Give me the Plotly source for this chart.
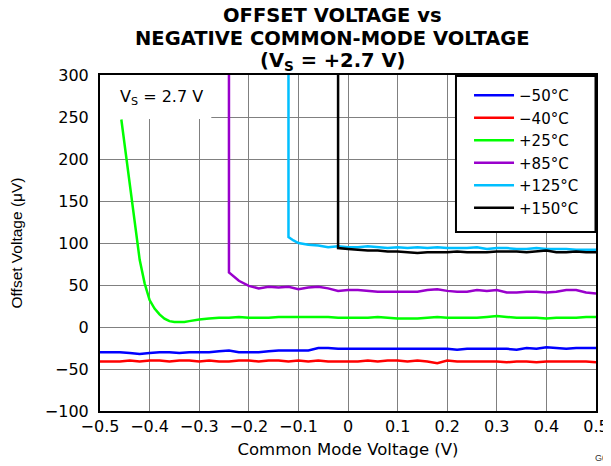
import plotly.graph_objects as go

# ---------------- data ----------------
x_cold = [-0.50, -0.48, -0.46, -0.44, -0.42, -0.40, -0.38, -0.36, -0.34, -0.32,
          -0.30, -0.28, -0.26, -0.24, -0.22, -0.20, -0.18, -0.16, -0.14, -0.12,
          -0.10, -0.08, -0.06, -0.04, -0.02, 0.00, 0.02, 0.04, 0.06, 0.08,
          0.10, 0.12, 0.14, 0.16, 0.18, 0.20, 0.22, 0.24, 0.26, 0.28,
          0.30, 0.32, 0.34, 0.36, 0.38, 0.40, 0.42, 0.44, 0.46, 0.48, 0.50]
y_m50 = [-30, -30, -30, -31, -32, -31, -30, -30, -31, -30,
         -30, -30, -29, -28, -30, -30, -30, -29, -28, -28,
         -28, -28, -25, -25, -26, -26, -26, -26, -26, -26,
         -26, -26, -26, -26, -26, -26, -27, -26, -26, -26,
         -26, -26, -27, -25, -26, -24, -25, -26, -25, -25, -25]
y_m40 = [-41, -41, -41, -40, -41, -40, -40, -41, -40, -40,
         -41, -40, -41, -41, -40, -40, -41, -40, -40, -41,
         -40, -41, -40, -41, -41, -41, -41, -40, -41, -40,
         -40, -41, -40, -41, -43, -40, -41, -41, -41, -41,
         -41, -42, -41, -41, -42, -41, -41, -41, -41, -41, -42]

x_p25 = [-0.457, -0.45, -0.44, -0.43, -0.42, -0.41, -0.40, -0.39, -0.38, -0.37,
         -0.36, -0.35, -0.34, -0.33, -0.32, -0.31, -0.30, -0.28, -0.26, -0.24,
         -0.22, -0.20, -0.18, -0.16, -0.14, -0.12, -0.10, -0.08, -0.06, -0.04,
         -0.02, 0.00, 0.02, 0.04, 0.06, 0.08, 0.10, 0.12, 0.14, 0.16,
         0.18, 0.20, 0.22, 0.24, 0.26, 0.28, 0.30, 0.32, 0.34, 0.36,
         0.38, 0.40, 0.42, 0.44, 0.46, 0.48, 0.50]
y_p25 = [247, 215, 170, 125, 80, 52, 32, 22, 15, 10,
         7, 6, 6, 6, 7, 8, 9, 10, 11, 11,
         12, 11, 11, 11, 12, 12, 12, 12, 12, 12,
         11, 11, 11, 11, 12, 11, 10, 10, 10, 11,
         12, 11, 11, 11, 11, 12, 13, 12, 11, 11,
         11, 10, 11, 11, 11, 12, 12]

x_p85 = [-0.24, -0.24, -0.22, -0.20, -0.18, -0.16, -0.14, -0.12, -0.10, -0.08,
         -0.06, -0.04, -0.02, 0.00, 0.02, 0.04, 0.06, 0.08, 0.10, 0.12,
         0.14, 0.16, 0.18, 0.20, 0.22, 0.24, 0.26, 0.28, 0.30, 0.32,
         0.34, 0.36, 0.38, 0.40, 0.42, 0.44, 0.46, 0.48, 0.50]
y_p85 = [320, 65, 55, 49, 46, 48, 47, 48, 45, 47,
         48, 46, 43, 44, 44, 43, 42, 42, 42, 42,
         42, 44, 45, 43, 42, 42, 44, 43, 44, 41,
         41, 42, 42, 41, 42, 44, 44, 41, 40]

x_p125 = [-0.12, -0.12, -0.11, -0.10, -0.08, -0.06, -0.04, -0.02, 0.00, 0.02,
          0.04, 0.06, 0.08, 0.10, 0.12, 0.14, 0.16, 0.18, 0.20, 0.22,
          0.24, 0.26, 0.28, 0.30, 0.32, 0.34, 0.36, 0.38, 0.40, 0.42,
          0.44, 0.46, 0.48, 0.50]
y_p125 = [320, 107, 103, 100, 98, 97, 95, 96, 95, 95,
          96, 95, 94, 95, 94, 95, 94, 95, 94, 94,
          94, 95, 93, 94, 94, 93, 93, 94, 93, 93,
          93, 92, 92, 92]

x_p150 = [-0.02, -0.02, 0.00, 0.02, 0.04, 0.06, 0.08, 0.10, 0.12, 0.14,
          0.16, 0.18, 0.20, 0.22, 0.24, 0.26, 0.28, 0.30, 0.32, 0.34,
          0.36, 0.38, 0.40, 0.42, 0.44, 0.46, 0.48, 0.50]
y_p150 = [320, 94, 93, 92, 91, 91, 90, 90, 89, 88,
          89, 89, 89, 90, 89, 89, 89, 90, 90, 90,
          89, 90, 91, 89, 89, 90, 89, 89]

series_names = ["\u221250°C", "\u221240°C", "+25°C", "+85°C", "+125°C", "+150°C"]
series_colors = ["#0000ff", "#ff0000", "#00ff00", "#9900cc", "#00bfff", "#000000"]
series_x = [x_cold, x_cold, x_p25, x_p85, x_p125, x_p150]
series_y = [y_m50, y_m40, y_p25, y_p85, y_p125, y_p150]

x_ticks = [-0.5, -0.4, -0.3, -0.2, -0.1, 0, 0.1, 0.2, 0.3, 0.4, 0.5]
x_tick_labels = ["\u22120.5", "\u22120.4", "\u22120.3", "\u22120.2", "\u22120.1", "0",
                 "0.1", "0.2", "0.3", "0.4", "0.5"]
y_ticks = [-100, -50, 0, 50, 100, 150, 200, 250, 300]
y_tick_labels = ["\u2212100", "\u221250", "0", "50", "100", "150", "200", "250", "300"]

title_lines = ["OFFSET VOLTAGE vs", "NEGATIVE COMMON-MODE VOLTAGE", "(V<sub>S</sub> = +2.7 V)"]

# ---------------- figure ----------------
FONT = "DejaVu Sans, Arial, sans-serif"
fig = go.Figure()
for name, color, xs, ys in zip(series_names, series_colors, series_x, series_y):
    fig.add_trace(go.Scatter(x=xs, y=ys, mode="lines", name=name,
                             line=dict(color=color, width=2.5)))

# white box behind the V_S note (covers grid, under traces)
fig.add_shape(type="rect", xref="x", yref="y", x0=-0.5, x1=-0.2756, y0=247.5, y1=300,
              fillcolor="white", line=dict(width=0), layer="between")
# legend frame
fig.add_shape(type="rect", xref="paper", yref="paper", x0=0.7177, x1=0.999, y0=0.533, y1=0.997,
              fillcolor="white", line=dict(color="black", width=2), layer="above")

fig.add_annotation(x=-0.463, y=273, xref="x", yref="y", xanchor="left", yanchor="middle",
                   text="V<sub>S</sub> = 2.7 V", showarrow=False,
                   font=dict(family=FONT, size=16, color="black"))

for txt, yp in zip(title_lines, [1.177, 1.109, 1.0387]):
    fig.add_annotation(x=0.468, y=yp, xref="paper", yref="paper", xanchor="center",
                       yanchor="middle", text="<b>" + txt + "</b>", showarrow=False,
                       font=dict(family=FONT, size=19.5, color="black"))

fig.add_annotation(x=0.994, y=-0.14, xref="paper", yref="paper", xanchor="left",
                   yanchor="middle", text="G050", showarrow=False,
                   font=dict(family="Liberation Sans, Arial", size=9, color="#333333"))

# the page body adds an 8 px offset, so the figure is sized/margined to compensate
fig.update_layout(
    width=603, height=458,
    margin=dict(l=92, r=15, t=67, b=55, autoexpand=False),
    paper_bgcolor="white", plot_bgcolor="white",
    showlegend=True,
    legend=dict(x=0.744, y=0.988, xanchor="left", yanchor="top", bgcolor="rgba(0,0,0,0)",
                borderwidth=0,
                font=dict(family=FONT, size=15, color="black"),
                itemwidth=40),
    xaxis=dict(range=[-0.5, 0.5], tickvals=x_ticks, ticktext=x_tick_labels,
               showgrid=True, gridcolor="#808080", gridwidth=1,
               showline=True, linecolor="black", linewidth=2, mirror=True,
               ticks="", zeroline=False, automargin=False,
               tickfont=dict(family=FONT, size=16, color="black"),
               title=dict(text="Common Mode Voltage (V)", standoff=8,
                          font=dict(family=FONT, size=16.5, color="black"))),
    yaxis=dict(range=[-100, 300], tickvals=y_ticks, ticktext=y_tick_labels,
               showgrid=True, gridcolor="#808080", gridwidth=1,
               showline=True, linecolor="black", linewidth=2, mirror=True,
               ticks="", zeroline=False, automargin=False, ticklabelstandoff=6,
               tickfont=dict(family=FONT, size=16, color="black"),
               title=dict(text="Offset Voltage (\u03bcV)", standoff=18,
                          font=dict(family="Liberation Sans, Arial", size=15.5, color="black"))),
)

fig.write_html("out.html")
